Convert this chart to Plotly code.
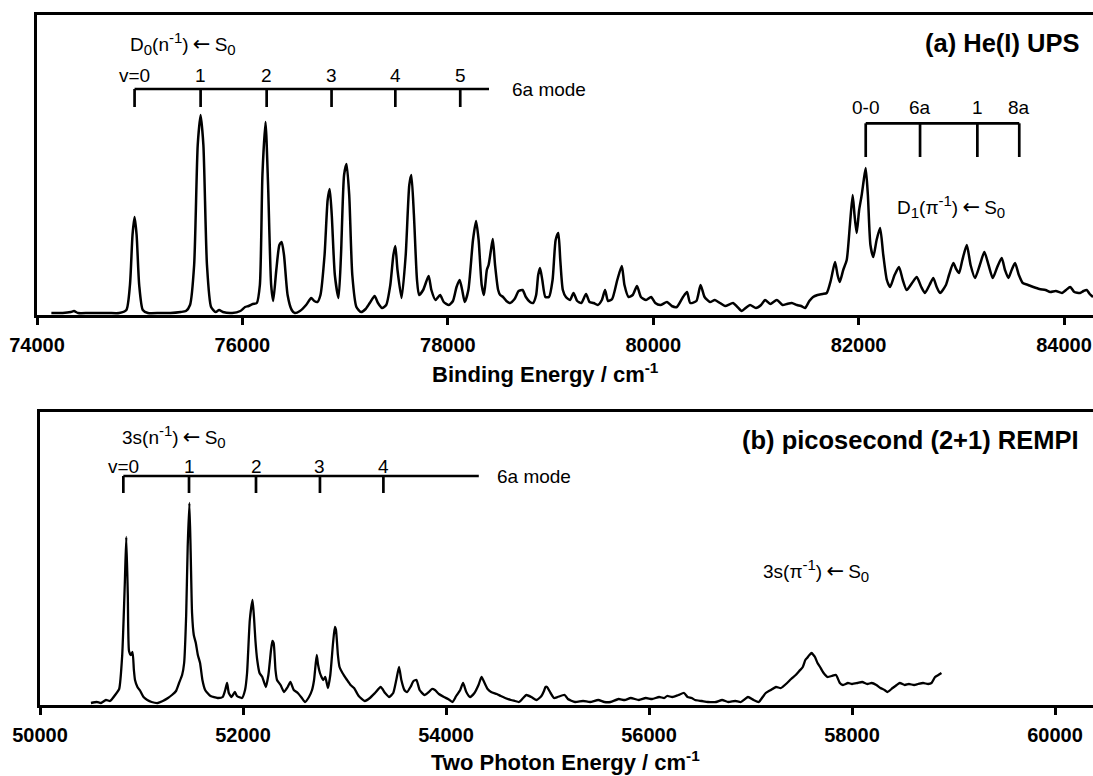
import plotly.graph_objects as go

W, H = 1093, 776

# ---------------- data: panel (a) He(I) UPS ----------------
ups_x = [74140, 74250, 74330, 74360, 74400, 74500, 74600, 74700, 74800, 74870,
         74905, 74930, 74950, 74970, 74995, 75030, 75080, 75200, 75300, 75400,
         75450, 75490, 75530, 75565, 75593, 75620, 75655, 75695, 75740, 75773,
         75810, 75900, 75980, 76026, 76060, 76100, 76140, 76170, 76195, 76225,
         76250, 76280, 76300, 76330, 76360, 76382, 76405, 76440, 76480, 76510,
         76560, 76620, 76670, 76700, 76730, 76760, 76800, 76830, 76850, 76870,
         76900, 76936, 76960, 76990, 77014, 77040, 77070, 77110, 77155, 77200,
         77240, 77287, 77320, 77360, 77400, 77440, 77470, 77489, 77510, 77550,
         77590, 77625, 77645, 77670, 77700, 77720, 77760, 77813, 77840, 77880,
         77925, 77960, 78010, 78050, 78085, 78115, 78140, 78165, 78200, 78245,
         78275, 78300, 78330, 78352, 78380, 78397, 78420, 78438, 78460, 78490,
         78510, 78538, 78570, 78606, 78650, 78690, 78728, 78760, 78800, 78830,
         78860, 78880, 78898, 78920, 78950, 78985, 79020, 79050, 79076, 79095,
         79120, 79150, 79190, 79224, 79260, 79300, 79346, 79380, 79420, 79460,
         79500, 79531, 79560, 79600, 79650, 79694, 79720, 79760, 79800, 79842,
         79880, 79930, 79979, 80020, 80070, 80134, 80180, 80230, 80290, 80329,
         80360, 80420, 80461, 80500, 80553, 80600, 80650, 80700, 80777, 80820,
         80862, 80900, 80943, 81000, 81050, 81089, 81140, 81203, 81260, 81300,
         81349, 81400, 81440, 81478, 81520, 81556, 81600, 81650, 81689, 81730,
         81770, 81795, 81816, 81850, 81884, 81915, 81942, 81960, 81981, 82005,
         82030, 82050, 82069, 82090, 82115, 82143, 82175, 82209, 82240, 82275,
         82306, 82350, 82393, 82430, 82468, 82520, 82566, 82610, 82646, 82690,
         82727, 82760, 82793, 82850, 82880, 82922, 82950, 82978, 83010, 83053,
         83090, 83133, 83180, 83224, 83265, 83306, 83350, 83393, 83425, 83458,
         83490, 83523, 83560, 83598, 83650, 83701, 83760, 83820, 83866, 83920,
         83980, 84020, 84060, 84100, 84156, 84190, 84221, 84250, 84282]
ups_y = [2, 2, 3, 4, 2, 2, 2, 2, 2, 5,
         30, 80, 98, 80, 30, 5, 2, 2, 2, 3,
         4, 10, 50, 170, 200, 170, 50, 8, 3, 5,
         3, 2, 4, 8, 9, 11, 12, 30, 140, 193,
         130, 30, 14, 45, 70, 73, 60, 20, 5, 2,
         4, 10, 17, 14, 13, 20, 60, 115, 126, 100,
         40, 17, 60, 140, 151, 120, 40, 8, 3, 6,
         12, 19, 12, 7, 10, 30, 60, 69, 45, 17,
         60, 130, 140, 100, 35, 20, 25, 39, 25, 15,
         20, 13, 10, 14, 28, 35, 25, 13, 25, 75,
         94, 75, 30, 20, 45, 50, 65, 76, 50, 25,
         20, 18, 14, 12, 16, 24, 25, 18, 13, 12,
         20, 40, 47, 35, 18, 18, 35, 75, 82, 55,
         25, 18, 15, 22, 14, 12, 21, 13, 12, 10,
         15, 25, 14, 16, 35, 49, 30, 18, 20, 29,
         18, 15, 18, 12, 10, 13, 9, 8, 18, 23,
         12, 14, 30, 18, 13, 15, 12, 9, 12, 8,
         4, 7, 10, 7, 10, 15, 11, 15, 10, 11,
         12, 10, 9, 7, 14, 18, 20, 21, 22, 35,
         53, 40, 33, 45, 55, 90, 120, 100, 82, 105,
         120, 135, 147, 120, 70, 58, 75, 87, 60, 35,
         28, 40, 48, 35, 25, 32, 38, 28, 22, 30,
         37, 28, 22, 30, 40, 52, 46, 42, 55, 70,
         50, 37, 50, 63, 50, 37, 48, 57, 45, 37,
         45, 52, 40, 32, 30, 28, 26, 25, 23, 24,
         22, 25, 28, 23, 22, 24, 25, 21, 18]

# ---------------- data: panel (b) ps (2+1) REMPI ----------------
rempi_x = [50502, 50560, 50600, 50650, 50690, 50710, 50740, 50780, 50810, 50835,
           50850, 50865, 50877, 50895, 50912, 50925, 50936, 50960, 50988, 51020,
           51057, 51100, 51160, 51210, 51261, 51300, 51340, 51370, 51400, 51420,
           51440, 51455, 51472, 51485, 51498, 51515, 51535, 51555, 51577, 51600,
           51627, 51680, 51749, 51800, 51825, 51843, 51860, 51887, 51920, 51940,
           51990, 52020, 52040, 52067, 52094, 52110, 52122, 52140, 52163, 52190,
           52225, 52250, 52276, 52290, 52302, 52320, 52335, 52370, 52404, 52440,
           52467, 52500, 52540, 52580, 52611, 52650, 52680, 52700, 52726, 52740,
           52758, 52790, 52810, 52837, 52860, 52887, 52905, 52916, 52935, 52951,
           52980, 53025, 53060, 53094, 53140, 53200, 53250, 53300, 53356, 53400,
           53440, 53480, 53510, 53537, 53560, 53590, 53616, 53650, 53680, 53709,
           53740, 53787, 53830, 53860, 53891, 53930, 53980, 54020, 54064, 54100,
           54140, 54168, 54200, 54237, 54280, 54320, 54350, 54380, 54410, 54444,
           54500, 54540, 54582, 54640, 54680, 54719, 54760, 54791, 54840, 54893,
           54940, 54965, 54980, 54995, 55030, 55064, 55100, 55169, 55200, 55271,
           55350, 55420, 55500, 55560, 55621, 55700, 55760, 55820, 55900, 55968,
           56030, 56100, 56150, 56177, 56230, 56290, 56345, 56380, 56420, 56453,
           56520, 56580, 56660, 56720, 56780, 56850, 56906, 56975, 57030, 57081,
           57120, 57150, 57200, 57251, 57300, 57360, 57400, 57445, 57480, 57515,
           57540, 57557, 57580, 57602, 57620, 57635, 57660, 57685, 57720, 57759,
           57800, 57842, 57880, 57911, 57960, 58000, 58054, 58100, 58150, 58193,
           58240, 58280, 58320, 58349, 58400, 58440, 58471, 58520, 58560, 58611,
           58650, 58700, 58750, 58783, 58818, 58850, 58881]
rempi_y = [2, 3, 2, 5, 4, 6, 10, 16, 50, 120,
           168, 110, 54, 50, 53, 35, 25, 18, 14, 8,
           5, 3, 2, 4, 7, 10, 14, 22, 30, 42,
           90, 158, 202, 150, 92, 70, 62, 50, 42, 25,
           15, 9, 7, 8, 15, 22, 12, 8, 13, 9,
           7, 15, 32, 85, 105, 85, 65, 45, 32, 28,
           18, 30, 55, 64, 62, 35, 25, 20, 13, 18,
           23, 15, 12, 7, 3, 8, 15, 25, 50, 40,
           32, 25, 28, 17, 30, 62, 78, 75, 50, 38,
           32, 25, 20, 17, 9, 4, 7, 12, 18, 12,
           8, 12, 25, 38, 25, 15, 13, 18, 24, 25,
           15, 10, 13, 16, 15, 11, 8, 6, 3, 9,
           15, 22, 13, 8, 12, 20, 28, 22, 16, 13,
           11, 9, 7, 5, 4, 3, 7, 10, 8, 5,
           9, 14, 18, 18, 12, 7, 8, 10, 6, 3,
           4, 3, 5, 3, 3, 6, 5, 7, 5, 7,
           6, 8, 7, 9, 8, 10, 12, 8, 7, 5,
           4, 3, 3, 5, 3, 4, 3, 8, 5, 3,
           8, 12, 15, 18, 17, 22, 26, 30, 34, 38,
           45, 47, 50, 52, 50, 48, 42, 38, 32, 28,
           29, 30, 22, 20, 22, 21, 22, 23, 21, 22,
           20, 17, 15, 13, 17, 20, 22, 20, 21, 20,
           21, 22, 21, 22, 28, 30, 32]

# ---------------- axes / labels ----------------
ups_ticks = [74000, 76000, 78000, 80000, 82000, 84000]
ups_ticktext = ["74000", "76000", "78000", "80000", "82000", "84000"]
rempi_ticks = [50000, 52000, 54000, 56000, 58000, 60000]
rempi_ticktext = ["50000", "52000", "54000", "56000", "58000", "60000"]

# progression ladders
d0_pos = [74950, 75593, 76236, 76868, 77489, 78121]
d0_lab = ["v=0", "1", "2", "3", "4", "5"]
d1_pos = [82069, 82598, 83156, 83564]
d1_lab = ["0-0", "6a", "1", "8a"]
s3_pos = [50821, 51468, 52128, 52758, 53383]
s3_lab = ["v=0", "1", "2", "3", "4"]

FONT = "Liberation Sans, Arial, sans-serif"
BLACK = "#000000"
ARROW = "<span style=\"font-family:'DejaVu Sans';font-size:21px\">\u2009\u2190\u2009</span>"


def sub(t):
    return "<sub><span style=\"font-size:15px\">" + t + "</span></sub>"


def sup(t):
    return "<sup><span style=\"font-size:15px\">" + t + "</span></sup>"


fig = go.Figure()
fig.add_trace(go.Scatter(x=ups_x, y=ups_y, mode="lines",
                         line=dict(color=BLACK, width=2.5, shape="spline", smoothing=0.6),
                         xaxis="x", yaxis="y", hoverinfo="skip", showlegend=False))
fig.add_trace(go.Scatter(x=rempi_x, y=rempi_y, mode="lines",
                         line=dict(color=BLACK, width=2.3, shape="spline", smoothing=0.5),
                         xaxis="x2", yaxis="y2", hoverinfo="skip", showlegend=False))


def xax(rng, ticks, text, domain, anchor):
    return dict(range=rng, domain=domain, anchor=anchor, showgrid=False, zeroline=False,
                showline=True, linecolor=BLACK, linewidth=2.7, mirror=True,
                ticks="outside", ticklen=7, tickwidth=2.7, tickcolor=BLACK,
                tickvals=ticks, ticktext=text, ticklabelstandoff=3, automargin=False,
                tickfont=dict(family=FONT, size=20, color=BLACK, weight="bold"))


def yax(rng, domain, anchor):
    return dict(range=rng, domain=domain, anchor=anchor, showgrid=False, zeroline=False,
                showline=True, linecolor=BLACK, linewidth=2.7, mirror=False,
                showticklabels=False, ticks="", automargin=False)


xa0, xb0 = 37 / W, 40 / W
fig.update_layout(
    width=W, height=H, margin=dict(l=0, r=0, t=0, b=0, autoexpand=False),
    paper_bgcolor="white", plot_bgcolor="white",
    xaxis=xax([74000, 84282], ups_ticks, ups_ticktext, [xa0, 1], "y"),
    yaxis=yax([0, 300], [1 - 315 / H, 1 - 15 / H], "x"),
    xaxis2=xax([50000, 60374], rempi_ticks, rempi_ticktext, [xb0, 1], "y2"),
    yaxis2=yax([0, 293], [1 - 705 / H, 1 - 412 / H], "x2"),
    font=dict(family=FONT, color=BLACK, size=19),
)

shapes = []
ann = []


def ladder(pos, labels, xr, yr, ytop, ybot, yl, xend=None):
    x1 = xend if xend is not None else pos[-1]
    shapes.append(dict(type="line", xref=xr, yref=yr, x0=pos[0], x1=x1, y0=ytop, y1=ytop,
                       line=dict(color=BLACK, width=2.7)))
    for p, l in zip(pos, labels):
        shapes.append(dict(type="line", xref=xr, yref=yr, x0=p, x1=p, y0=ytop, y1=ybot,
                           line=dict(color=BLACK, width=2.7)))
        ann.append(dict(xref=xr, yref=yr, x=p, y=yl, text=l, showarrow=False,
                        xanchor="center", yanchor="middle",
                        font=dict(family=FONT, size=19, color=BLACK)))


ladder(d0_pos, d0_lab, "x", "y", 226, 208, 240, xend=78401)
ladder(d1_pos, d1_lab, "x", "y", 191.7, 158, 208)
ladder(s3_pos, s3_lab, "x2", "y2", 229, 212, 239, xend=54323)


def txt(xr, yr, x, y, t, anchor="left", size=19, bold=False):
    f = dict(family=FONT, size=size, color=BLACK)
    if bold:
        f["weight"] = "bold"
    ann.append(dict(xref=xr, yref=yr, x=x, y=y, text=t, showarrow=False,
                    xanchor=anchor, yanchor="middle", font=f))


txt("x", "y", 74886, 272, "D" + sub("0") + "(n" + sup("-1") + ")" + ARROW + "S" + sub("0"))
txt("x", "y", 78606, 226, "6a mode")
txt("x", "y", 82354, 109, "D" + sub("1") + "(\u03c0" + sup("-1") + ")" + ARROW + "S" + sub("0"))
txt("x", "y", 84166, 272, "(a) He(I) UPS", anchor="right", size=25.5, bold=True)

txt("x2", "y2", 50788, 269, "3s(n" + sup("-1") + ")" + ARROW + "S" + sub("0"))
txt("x2", "y2", 54479, 229, "6a mode")
txt("x2", "y2", 57099, 135, "3s(\u03c0" + sup("-1") + ")" + ARROW + "S" + sub("0"))
txt("x2", "y2", 60256, 265, "(b) picosecond (2+1) REMPI", anchor="right", size=25.5, bold=True)

txt("paper", "paper", 545 / W, 1 - 373 / H, "Binding Energy / cm<sup>-1</sup>",
    anchor="center", size=22, bold=True)
txt("paper", "paper", 565 / W, 1 - 761 / H, "Two Photon Energy / cm<sup>-1</sup>",
    anchor="center", size=22, bold=True)

fig.update_layout(shapes=shapes, annotations=ann)
fig.write_html("out.html", config={"displayModeBar": False},
               post_script="document.body.style.margin='0';")
